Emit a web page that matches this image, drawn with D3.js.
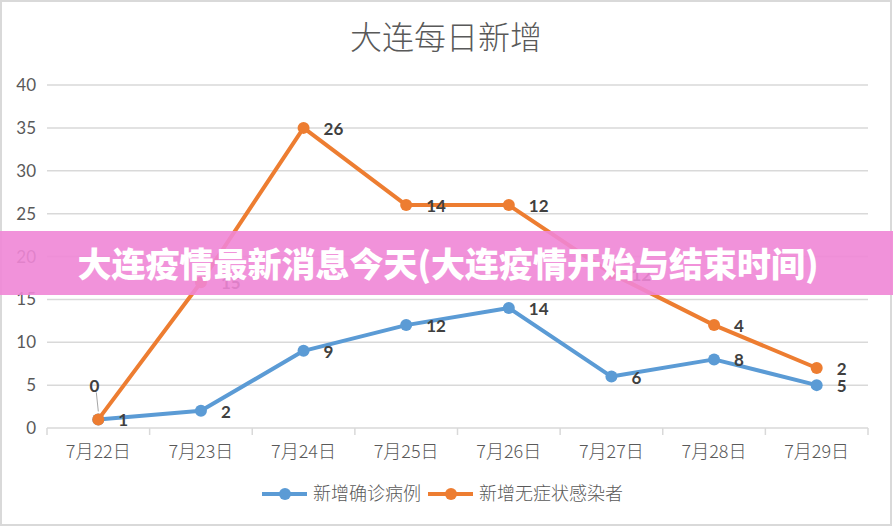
<!DOCTYPE html>
<html lang="zh">
<head>
    <meta charset="UTF-8">
    <title>大连每日新增</title>
    <script src="https://d3js.org/d3.v7.min.js"></script>
    <style>
        body {
            margin: 0;
            background: #fff;
        }
        .tick-y {
            font-family: Lato, "Noto Sans", sans-serif;
            font-size: 17px;
            fill: #595959;
        }
        .tick-x {
            font-family: "Noto Sans CJK SC", sans-serif;
            font-weight: 300;
            font-size: 18px;
            fill: #595959;
        }
        .data-label {
            font-family: Lato, "Noto Sans", sans-serif;
            font-weight: bold;
            font-size: 17px;
            fill: #404040;
        }
    </style>
</head>
<body>
    <script>
        var w = 893;
        var h = 527;

        // data
        var dates = ["7月22日", "7月23日", "7月24日", "7月25日", "7月26日", "7月27日", "7月28日", "7月29日"];
        var confirmed = [1, 2, 9, 12, 14, 6, 8, 5];
        var asymptomatic = [0, 15, 26, 14, 12, 12, 4, 2];
        var yTicks = [0, 5, 10, 15, 20, 25, 30, 35, 40];
        var seriesNames = ["新增确诊病例", "新增无症状感染者"];
        var seriesColors = ["#5b9bd5", "#ed7d31"];
        var chartTitle = "大连每日新增";
        var bannerText = "大连疫情最新消息今天(大连疫情开始与结束时间)";

        var margin = { left: 47, right: 25, top: 85, bottom: 99 };

        var svg = d3.select("body")
            .append("svg")
            .attr("width", w)
            .attr("height", h);

        // outer border
        svg.append("rect")
            .attr("x", 1)
            .attr("y", 1)
            .attr("width", w - 3)
            .attr("height", h - 3)
            .attr("fill", "#fff")
            .attr("stroke", "#d9d9d9")
            .attr("stroke-width", 2);

        svg.append("text")
            .attr("x", 446)
            .attr("y", 49)
            .attr("text-anchor", "middle")
            .style("font-family", "'Noto Sans CJK SC', sans-serif")
            .style("font-weight", 300)
            .style("font-size", "32px")
            .style("fill", "#595959")
            .text(chartTitle);

        var xScale = d3.scaleBand()
            .domain(dates)
            .range([margin.left, w - margin.right]);

        var yScale = d3.scaleLinear()
            .domain([0, 40])
            .range([h - margin.bottom, margin.top]);

        // grid lines
        svg.append("g")
            .selectAll("line")
            .data(yTicks.slice(1))
            .enter()
            .append("line")
            .attr("x1", margin.left)
            .attr("x2", w - margin.right)
            .attr("y1", function (d) { return yScale(d); })
            .attr("y2", function (d) { return yScale(d); })
            .attr("stroke", "#d9d9d9")
            .attr("stroke-width", 1.5);

        // y labels
        svg.append("g")
            .selectAll("text")
            .data(yTicks)
            .enter()
            .append("text")
            .attr("class", "tick-y")
            .attr("x", 36)
            .attr("y", function (d) { return yScale(d) + 6; })
            .attr("text-anchor", "end")
            .text(function (d) { return d; });

        // x axis
        var xAxis = svg.append("g")
            .attr("transform", "translate(0," + yScale(0) + ")");

        xAxis.append("line")
            .attr("x1", margin.left)
            .attr("x2", w - margin.right)
            .attr("stroke", "#d9d9d9")
            .attr("stroke-width", 1.5);

        var bounds = dates.map(function (d) { return xScale(d); });
        bounds.push(w - margin.right);

        xAxis.selectAll(".tk")
            .data(bounds)
            .enter()
            .append("line")
            .attr("class", "tk")
            .attr("x1", function (d) { return d; })
            .attr("x2", function (d) { return d; })
            .attr("y1", 0)
            .attr("y2", 7)
            .attr("stroke", "#d9d9d9")
            .attr("stroke-width", 1.5);

        xAxis.selectAll("text")
            .data(dates)
            .enter()
            .append("text")
            .attr("class", "tick-x")
            .attr("x", function (d) { return xScale(d) + xScale.bandwidth() / 2; })
            .attr("y", 30)
            .attr("text-anchor", "middle")
            .text(function (d) { return d; });

        // stacked values
        var stacked = [
            confirmed.map(function (v) { return v; }),
            confirmed.map(function (v, i) { return v + asymptomatic[i]; })
        ];
        var rawValues = [confirmed, asymptomatic];

        var cx = function (i) { return xScale(dates[i]) + xScale.bandwidth() / 2; };

        var line = d3.line()
            .x(function (d, i) { return cx(i); })
            .y(function (d) { return yScale(d); });

        [0, 1].forEach(function (s) {
            var g = svg.append("g");

            g.append("path")
                .datum(stacked[s])
                .attr("fill", "none")
                .attr("stroke", seriesColors[s])
                .attr("stroke-width", 4)
                .attr("stroke-linejoin", "round")
                .attr("d", line);

            g.selectAll("circle")
                .data(stacked[s])
                .enter()
                .append("circle")
                .attr("cx", function (d, i) { return cx(i); })
                .attr("cy", function (d) { return yScale(d); })
                .attr("r", 6)
                .attr("fill", seriesColors[s]);
        });

        // data labels
        [0, 1].forEach(function (s) {
            stacked[s].forEach(function (d, i) {
                var px = cx(i);
                var py = yScale(d);
                var val = rawValues[s][i];
                if (s === 1 && val === 0) {
                    // label pulled above with a leader line
                    svg.append("line")
                        .attr("x1", px - 2)
                        .attr("y1", py - 27)
                        .attr("x2", px)
                        .attr("y2", py - 8)
                        .attr("stroke", "#a6a6a6")
                        .attr("stroke-width", 1);
                    svg.append("text")
                        .attr("class", "data-label")
                        .attr("x", px - 4)
                        .attr("y", py - 27)
                        .attr("text-anchor", "middle")
                        .text(val);
                } else {
                    svg.append("text")
                        .attr("class", "data-label")
                        .attr("x", px + 20)
                        .attr("y", py + 7)
                        .text(val);
                }
            });
        });

        // legend
        var legend = svg.append("g")
            .attr("transform", "translate(0,494)");
        var legendX = [262, 428];
        seriesNames.forEach(function (name, i) {
            var lx = legendX[i];
            legend.append("line")
                .attr("x1", lx)
                .attr("x2", lx + 45)
                .attr("stroke", seriesColors[i])
                .attr("stroke-width", 4);
            legend.append("circle")
                .attr("cx", lx + 23)
                .attr("r", 6)
                .attr("fill", seriesColors[i]);
            legend.append("text")
                .attr("class", "tick-x")
                .attr("x", lx + 51)
                .attr("y", 6)
                .text(name);
        });

        // pink banner overlay
        svg.append("rect")
            .attr("x", 0)
            .attr("y", 231)
            .attr("width", w)
            .attr("height", 64)
            .attr("fill", "#ef86d6")
            .attr("opacity", 0.9);

        svg.append("text")
            .attr("x", 448)
            .attr("y", 277)
            .attr("text-anchor", "middle")
            .style("font-family", "'Noto Sans CJK SC', sans-serif")
            .style("font-weight", 900)
            .style("font-size", "34px")
            .style("fill", "#fff")
            .text(bannerText);
    </script>
</body>
</html>
